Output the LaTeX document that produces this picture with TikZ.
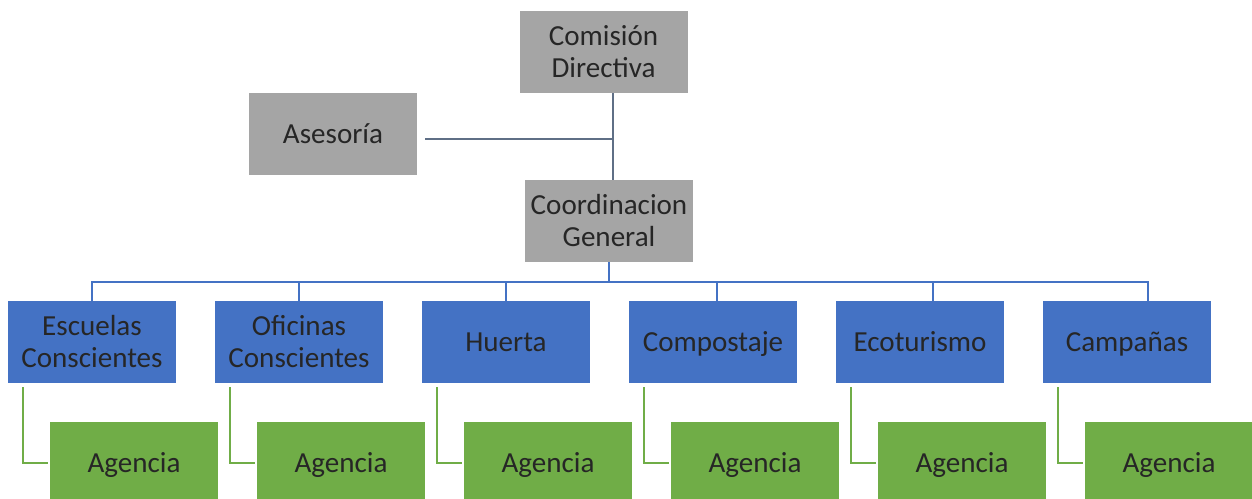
\documentclass[tikz,border=0pt]{standalone}
\usepackage{fontspec}
\setmainfont{Carlito}
\usepackage{tikz}

\definecolor{boxgray}{HTML}{A5A5A5}
\definecolor{boxblue}{HTML}{4472C4}
\definecolor{boxgreen}{HTML}{70AD47}
\definecolor{linegray}{HTML}{5F6F86}
\definecolor{textdark}{HTML}{262626}

\begin{document}
\begin{tikzpicture}[x=0.75pt,y=-0.75pt,
    orgbox/.style={minimum width=126pt,minimum height=61.5pt,inner sep=0pt,align=center,
        text=textdark,font=\fontsize{21.8}{24}\selectfont},
    oneline/.style={text height=14pt,text depth=0pt},
    graybox/.style={orgbox,fill=boxgray},
    bluebox/.style={orgbox,fill=boxblue},
    greenbox/.style={orgbox,oneline,fill=boxgreen},
    grayline/.style={draw=linegray,line width=1.1pt},
    blueline/.style={draw=boxblue,line width=1.5pt},
    greenline/.style={draw=boxgreen,line width=1.5pt}]
        \useasboundingbox (0,0) rectangle (1252,499);
        % top
        \node[graybox] (com) at (603.5,52) {Comisión\\Directiva};
        \node[graybox,oneline] (ase) at (333,134) {Asesoría};
        \node[graybox] (coord) at (609,221) {Coordinacion\\General};
        \coordinate (jn) at (613,139);
        \draw[grayline] (com.south -| jn) -- (coord.north -| jn);
        \draw[grayline] (ase.east) ++(8,5) -- (jn);
        % areas
        \node[bluebox] (esc) at (92,342) {Escuelas\\Conscientes};
        \node[bluebox] (ofi) at (299,342) {Oficinas\\Conscientes};
        \node[bluebox,oneline] (hue) at (506,342) {Huerta};
        \node[bluebox,oneline] (comp) at (713,342) {Compostaje};
        \node[bluebox,oneline] (eco) at (920,342) {Ecoturismo};
        \node[bluebox,oneline] (camp) at (1127,342) {Campañas};
        \coordinate (bar) at (609,282);
        \draw[blueline] (coord.south) -- (bar);
        \draw[blueline] (bar) -| (esc.north);
        \draw[blueline] (bar) -| (ofi.north);
        \draw[blueline] (bar) -| (hue.north);
        \draw[blueline] (bar) -| ([xshift=3pt]comp.north);
        \draw[blueline] (bar) -| ([xshift=9.75pt]eco.north);
        \draw[blueline] (bar) -| ([xshift=15.75pt]camp.north);
        % agencias
        \node[greenbox] (ag1) at (134,463) {Agencia};
        \node[greenbox] (ag2) at (341,463) {Agencia};
        \node[greenbox] (ag3) at (548,463) {Agencia};
        \node[greenbox] (ag4) at (755,463) {Agencia};
        \node[greenbox] (ag5) at (962,463) {Agencia};
        \node[greenbox] (ag6) at (1169,463) {Agencia};
        \draw[greenline] (esc.south west) ++(15,4) |- ([xshift=-1.5pt]ag1.west);
        \draw[greenline] (ofi.south west) ++(15,4) |- ([xshift=-1.5pt]ag2.west);
        \draw[greenline] (hue.south west) ++(15,4) |- ([xshift=-1.5pt]ag3.west);
        \draw[greenline] (comp.south west) ++(15,4) |- ([xshift=-1.5pt]ag4.west);
        \draw[greenline] (eco.south west) ++(15,4) |- ([xshift=-1.5pt]ag5.west);
        \draw[greenline] (camp.south west) ++(15,4) |- ([xshift=-1.5pt]ag6.west);
    \end{tikzpicture}
\end{document}
